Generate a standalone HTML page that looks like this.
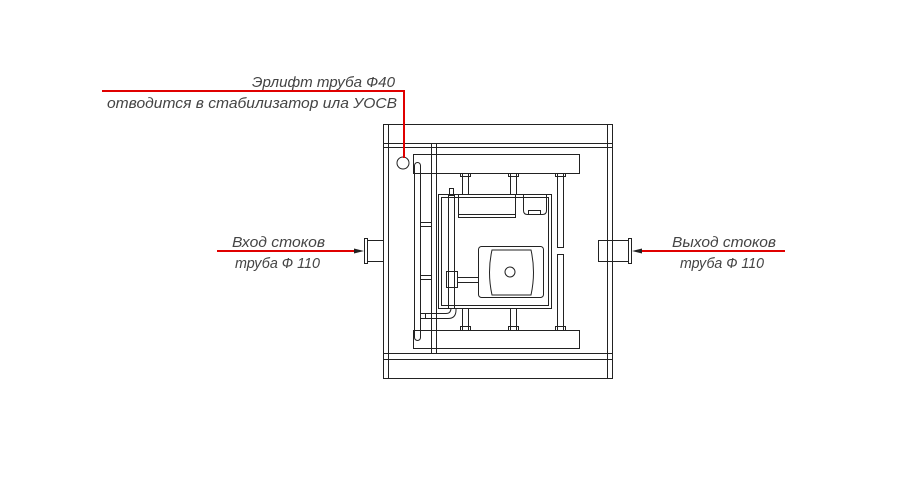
<!DOCTYPE html>
<html><head><meta charset="utf-8"><style>
html,body{margin:0;padding:0;background:#fff;}
svg{display:block}
text{font-family:"Liberation Sans","DejaVu Sans",sans-serif;font-style:italic;fill:#444;font-size:15px;}
</style></head><body>
<svg width="900" height="500" viewBox="0 0 900 500" xmlns="http://www.w3.org/2000/svg">
<g fill="none" stroke="#222" stroke-width="1">
<rect x="383.5" y="124.5" width="229" height="254"/>
<line x1="388.5" y1="124" x2="388.5" y2="378"/>
<line x1="607.5" y1="124" x2="607.5" y2="378"/>
<line x1="383" y1="143.5" x2="612" y2="143.5"/>
<line x1="383" y1="147.5" x2="612" y2="147.5"/>
<line x1="383" y1="353.5" x2="612" y2="353.5"/>
<line x1="383" y1="359.5" x2="612" y2="359.5"/>
<rect x="367.5" y="240.5" width="16" height="21"/>
<rect x="364.5" y="238.5" width="3" height="25"/>
<rect x="598.5" y="240.5" width="14" height="21"/>
<rect x="612.5" y="240.5" width="16" height="21"/>
<rect x="628.5" y="238.5" width="3" height="25"/>
<circle cx="403" cy="163" r="6"/>
<rect x="413.5" y="154.5" width="166" height="19"/>
<rect x="413.5" y="330.5" width="166" height="18"/>
<line x1="431.5" y1="143" x2="431.5" y2="353"/>
<line x1="436.5" y1="143" x2="436.5" y2="353"/>
<rect x="414.5" y="162.5" width="6" height="178" rx="3"/>
<rect x="420.5" y="222.5" width="11" height="4"/>
<rect x="420.5" y="275.5" width="11" height="4"/>
<rect x="462.5" y="173.5" width="6" height="21"/>
<rect x="510.5" y="173.5" width="6" height="21"/>
<rect x="557.5" y="173.5" width="6" height="74"/>
<rect x="557.5" y="254.5" width="6" height="76"/>
<rect x="462.5" y="308.5" width="6" height="22"/>
<rect x="510.5" y="308.5" width="6" height="22"/>
<rect x="460.5" y="173.5" width="10" height="3"/>
<rect x="508.5" y="173.5" width="10" height="3"/>
<rect x="555.5" y="173.5" width="10" height="3"/>
<rect x="460.5" y="326.5" width="10" height="4"/>
<rect x="508.5" y="326.5" width="10" height="4"/>
<rect x="555.5" y="326.5" width="10" height="4"/>
<rect x="438.5" y="194.5" width="113" height="114"/>
<rect x="441.5" y="197.5" width="107" height="108"/>
<rect x="458.5" y="194.5" width="57" height="23"/>
<line x1="458" y1="214.5" x2="515" y2="214.5"/>
<path d="M523.5 194.5 V210.5 Q523.5 214.5 527.5 214.5 H542.5 Q546.5 214.5 546.5 210.5 V194.5"/>
<rect x="528.5" y="210.5" width="12" height="4"/>
<rect x="478.5" y="246.5" width="65" height="51" rx="3"/>
<path d="M492 250 H531 Q536 272 531 295 H492 Q487 272 492 250 Z"/>
<circle cx="510" cy="272" r="5"/>
<rect x="448.5" y="195.5" width="6" height="113"/>
<rect x="449.5" y="188.5" width="4" height="6"/>
<rect x="446.5" y="271.5" width="11" height="16"/>
<rect x="457.5" y="277.5" width="21" height="5"/>
<path d="M420 313.5 H446 Q451 313.5 451 308"/>
<path d="M420 318.5 H448 Q456 318.5 456 310 V308"/>
<line x1="425.5" y1="313" x2="425.5" y2="319"/>
</g>
<g stroke="#e00000" stroke-width="2" fill="none">
<path d="M102 91 H404 V158"/>
<line x1="217" y1="251" x2="356" y2="251"/>
<line x1="640" y1="251" x2="785" y2="251"/>
</g>
<polygon points="364,251 354,248.5 354,253.5" fill="#222"/>
<polygon points="632,251 642,248.5 642,253.5" fill="#222"/>
<text x="252" y="87" textLength="143" lengthAdjust="spacingAndGlyphs">Эрлифт труба Ф40</text>
<text x="107" y="108" textLength="290" lengthAdjust="spacingAndGlyphs">отводится в стабилизатор ила УОСВ</text>
<text x="232" y="247" textLength="93" lengthAdjust="spacingAndGlyphs">Вход стоков</text>
<text x="235" y="268" textLength="85" lengthAdjust="spacingAndGlyphs">труба Ф 110</text>
<text x="672" y="247" textLength="104" lengthAdjust="spacingAndGlyphs">Выход стоков</text>
<text x="680" y="268" textLength="84" lengthAdjust="spacingAndGlyphs">труба Ф 110</text>
</svg>
</body></html>
